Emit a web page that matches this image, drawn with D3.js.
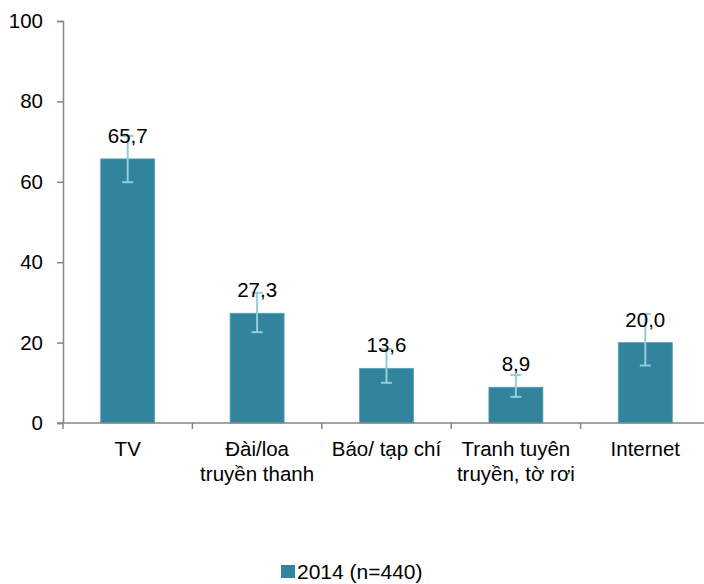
<!DOCTYPE html>
<html><head><meta charset="utf-8">
<script src="https://cdn.jsdelivr.net/npm/d3@7"></script>
<style>body{margin:0;background:#fff}text{font-family:"Liberation Sans",Arial,sans-serif;fill:#000}</style>
</head><body><svg id="c" width="704" height="584"></svg>
<script>
const categories = [["TV"],["Đài/loa","truyền thanh"],["Báo/ tạp chí"],["Tranh tuyên","truyền, tờ rơi"],["Internet"]];
const values = [65.7, 27.3, 13.6, 8.9, 20.0];
const lower = [59.9, 22.6, 10.0, 6.5, 14.3];
const upper = [71.4, 32.4, 18.4, 11.9, 27.1];
const yTicks = [0,20,40,60,80,100];
const seriesName = "2014 (n=440)";

const svg = d3.select("#c");
const fs = 20.5;
const x0 = 63, bw = 129.4, y0 = 423, yTop = 21;
const x = d3.scaleBand().domain(d3.range(categories.length)).range([x0, x0 + bw*categories.length]).paddingInner(0).paddingOuter(0);
const y = d3.scaleLinear().domain([0,100]).range([y0, yTop]);
const axisCol = "#868686", barCol = "#31849B", errCol = "#92CDDC";

// y axis
const ya = svg.append("g").attr("transform",`translate(${x0},0)`)
  .call(d3.axisLeft(y).tickValues(yTicks).tickSize(6).tickPadding(14).tickFormat(d3.format("d")));
ya.select(".domain").attr("stroke",axisCol).attr("stroke-width",1.5);
ya.selectAll(".tick line").attr("stroke",axisCol).attr("stroke-width",1.5);
ya.selectAll(".tick text").attr("font-size",fs).attr("font-family","Liberation Sans, Arial, sans-serif").attr("fill","#000");

// bars
const barW = 54;
svg.append("g").selectAll("rect").data(values).join("rect")
  .attr("x",(d,i)=>x(i)+x.bandwidth()/2-barW/2).attr("width",barW)
  .attr("y",d=>y(d)).attr("height",d=>y0-y(d))
  .attr("fill",barCol).attr("stroke","#5aa3b8").attr("stroke-width",0.8);

// x axis
const xa = svg.append("g").attr("transform",`translate(0,${y0})`);
xa.append("line").attr("x1",x0-6).attr("x2",x0+bw*categories.length).attr("stroke",axisCol).attr("stroke-width",1.5);
xa.selectAll("line.tk").data(d3.range(categories.length+1)).join("line").attr("class","tk")
  .attr("x1",i=>x0+i*x.step()).attr("x2",i=>x0+i*x.step()).attr("y1",0).attr("y2",6)
  .attr("stroke",axisCol).attr("stroke-width",1.5);
const lbl = xa.selectAll("text").data(categories).join("text")
  .attr("text-anchor","middle").attr("font-size",fs)
  .attr("transform",(d,i)=>`translate(${x(i)+x.bandwidth()/2},33)`);
lbl.selectAll("tspan").data(d=>d).join("tspan").attr("x",0).attr("dy",(d,j)=>j?25:0).text(d=>d);

// error bars
const eb = svg.append("g").attr("stroke",errCol).attr("stroke-width",2);
values.forEach((v,i)=>{
  const cx = x(i)+x.bandwidth()/2;
  eb.append("line").attr("x1",cx).attr("x2",cx).attr("y1",y(lower[i])).attr("y2",y(upper[i]));
  eb.append("line").attr("x1",cx-5.5).attr("x2",cx+5.5).attr("y1",y(lower[i])).attr("y2",y(lower[i]));
  eb.append("line").attr("x1",cx-5.5).attr("x2",cx+5.5).attr("y1",y(upper[i])).attr("y2",y(upper[i]));
});

// data labels
svg.append("g").selectAll("text").data(values).join("text")
  .attr("x",(d,i)=>x(i)+x.bandwidth()/2).attr("y",d=>y(d)-16)
  .attr("text-anchor","middle").attr("font-size",fs)
  .text(d=>d3.format(".1f")(d).replace(".",","));

// legend
const lg = svg.append("g").attr("transform","translate(281,565)");
lg.append("rect").attr("width",14).attr("height",13).attr("fill",barCol);
lg.append("text").attr("x",16).attr("y",13.5).attr("font-size",21).text(seriesName);
</script></body></html>
